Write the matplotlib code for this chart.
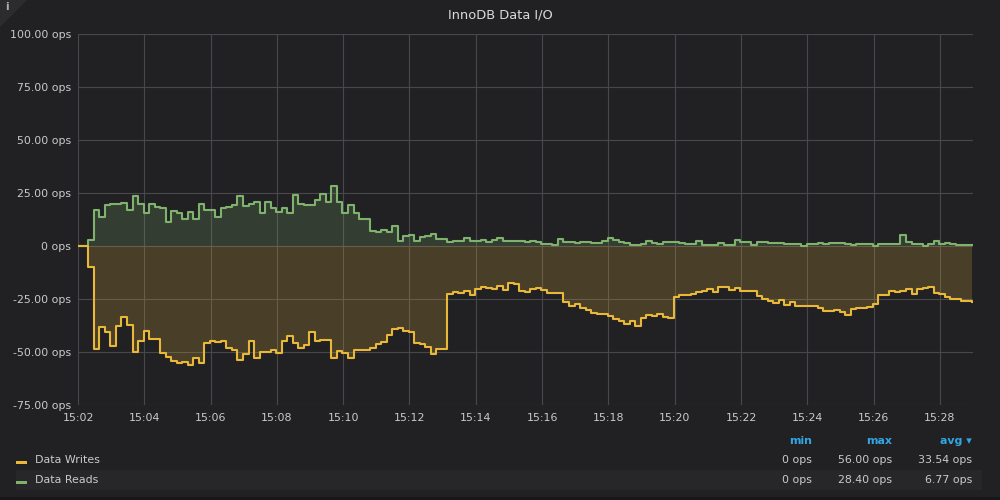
import matplotlib
matplotlib.use("Agg")
import matplotlib.pyplot as plt
import matplotlib.dates as mdates
from matplotlib.patches import Rectangle, Polygon
import pandas as pd
import numpy as np

# ---- data (ops, 10 s resolution) ----
lead_zeros = [0.0, 0.0]
reads = [
    2.8, 17.0, 13.8, 19.3, 19.6, 19.6, 20.4, 17.0, 23.7, 19.6,
    15.7, 19.6, 18.5, 18.0, 11.5, 16.7, 15.4, 12.6, 16.2, 12.6,
    19.6, 17.0, 17.0, 13.8, 17.8, 18.5, 19.3, 23.6, 19.0, 19.6,
    20.6, 15.7, 20.8, 18.0, 15.9, 18.0, 15.4, 24.0, 19.8, 19.5,
    19.3, 21.7, 24.5, 20.9, 28.4, 20.9, 15.7, 19.3, 15.7, 12.6,
    12.6, 7.2, 6.6, 7.5, 6.5, 9.2, 2.4, 4.9, 5.0, 2.4,
    4.1, 4.9, 5.7, 3.1, 3.3, 2.0, 2.4, 2.4, 3.6, 2.2,
    2.5, 3.0, 2.0, 2.8, 3.6, 2.5, 2.5, 2.4, 2.2, 1.7,
    2.2, 2.0, 1.1, 1.0, 0.5, 3.3, 1.7, 1.7, 1.2, 1.9,
    1.7, 1.6, 1.5, 2.5, 3.9, 2.8, 2.0, 1.2, 0.5, 0.5,
    0.9, 2.2, 1.2, 0.9, 1.7, 2.0, 2.0, 1.2, 0.9, 0.9,
    2.4, 0.6, 0.6, 0.6, 1.3, 0.6, 0.6, 3.0, 1.7, 1.7,
    0.6, 2.0, 1.9, 1.4, 1.4, 1.4, 0.8, 0.8, 0.9, 0.2,
    0.9, 0.9, 1.3, 0.8, 1.2, 1.3, 1.3, 0.8, 0.3, 0.8,
    0.8, 0.8, 0.2, 0.9, 0.9, 0.9, 0.9, 5.3, 2.0, 0.8,
    0.8, 0.2, 0.8, 2.5, 1.1, 1.6, 0.8, 0.5, 0.3, 0.3,
    0.3,
]
writes = [
    9.7, 48.7, 38.0, 40.7, 47.0, 37.6, 33.6, 37.3, 49.8, 45.0,
    40.0, 43.9, 43.9, 50.6, 52.2, 54.2, 55.0, 54.9, 56.0, 53.0,
    55.0, 45.6, 44.8, 45.1, 44.8, 48.3, 49.0, 53.8, 51.0, 44.7,
    53.0, 49.8, 49.8, 49.0, 50.3, 45.0, 42.3, 45.6, 48.0, 46.7,
    40.7, 45.0, 44.3, 44.3, 53.0, 49.5, 50.6, 53.0, 49.0, 49.0,
    49.0, 48.0, 46.2, 45.4, 42.0, 39.3, 38.5, 40.1, 40.7, 45.9,
    46.2, 47.5, 50.9, 48.7, 48.6, 22.6, 21.7, 22.3, 21.4, 23.3,
    20.3, 19.3, 19.7, 20.3, 18.7, 20.8, 17.6, 17.8, 21.1, 21.7,
    20.1, 20.0, 20.8, 22.0, 22.3, 22.0, 26.3, 28.1, 27.4, 29.4,
    30.2, 31.8, 32.1, 32.2, 33.0, 34.3, 35.2, 36.9, 35.2, 37.9,
    33.8, 32.5, 33.0, 32.2, 33.5, 33.8, 23.9, 23.1, 23.1, 22.6,
    21.7, 21.1, 20.1, 21.5, 19.5, 19.3, 20.6, 19.7, 21.1, 21.4,
    21.1, 23.4, 25.0, 25.9, 26.7, 25.3, 27.8, 26.6, 28.1, 28.1,
    28.5, 28.1, 29.1, 30.5, 30.7, 30.2, 31.0, 32.5, 29.9, 29.4,
    29.4, 28.6, 27.5, 23.1, 23.1, 21.4, 21.9, 21.2, 20.1, 22.8,
    20.3, 19.8, 19.3, 22.3, 22.6, 24.1, 25.0, 25.0, 25.9, 25.8,
    26.4,
]
series_names = ["Data Writes", "Data Reads"]
legend_min = ["0 ops", "0 ops"]
legend_max = ["56.00 ops", "28.40 ops"]
legend_avg = ["33.54 ops", "6.77 ops"]
y_ticks = [-75, -50, -25, 0, 25, 50, 75, 100]
title = "InnoDB Data I/O"

reads_all = np.array(lead_zeros + reads)
writes_all = np.array(lead_zeros + writes)
times = pd.date_range("2024-01-01 15:01:58.700", periods=len(reads_all), freq="10s")

# ---- style ----
BG = "#212124"
TXT = "#c9cacb"
GRID = "#48484c"
YEL = "#EAB839"
GRN = "#7EB26D"
BLUE = "#33a5e2"
FS = 7.9

W, H = 1000, 500
fig = plt.figure(figsize=(W / 100, H / 100), dpi=100, facecolor=BG)

def fx(px):
    return px / W

def fy(py):
    return 1 - py / H

ax = fig.add_axes([fx(78), fy(405), fx(973) - fx(78), (405 - 34) / H])
ax.set_facecolor(BG)
for s in ax.spines.values():
    s.set_visible(False)

ax.grid(True, color=GRID, linewidth=0.8, zorder=0)
ax.set_axisbelow(True)

# reads (positive)
ax.fill_between(times, reads_all, 0, step="post", color=GRN, alpha=0.2, linewidth=0, zorder=1)
ax.step(times, reads_all, where="post", color=GRN, linewidth=1.5, zorder=3)
# writes (negative-Y)
ax.fill_between(times, -writes_all, 0, step="post", color=YEL, alpha=0.2, linewidth=0, zorder=1)
ax.step(times, -writes_all, where="post", color=YEL, linewidth=1.5, zorder=4)

ax.set_ylim(-75, 100)
ax.set_yticks(y_ticks)
ax.set_yticklabels([("0 ops" if v == 0 else f"{v:.2f} ops") for v in y_ticks])
ax.set_xlim(pd.Timestamp("2024-01-01 15:02:00"), pd.Timestamp("2024-01-01 15:29:00"))
ax.xaxis.set_major_locator(mdates.MinuteLocator(byminute=range(2, 60, 2)))
ax.xaxis.set_major_formatter(mdates.DateFormatter("%H:%M"))
ax.tick_params(axis="both", length=0, colors=TXT, labelsize=FS)
ax.tick_params(axis="y", pad=5)
ax.tick_params(axis="x", pad=6)

# title
fig.text(0.5, fy(15), title, ha="center", va="center", color="#d8d9da", fontsize=9.4)

# info corner
fig.patches.append(Polygon([[0, 1], [fx(27), 1], [0, fy(27)]], closed=True,
                           transform=fig.transFigure, facecolor="#2c2c2f", edgecolor="none"))
fig.text(fx(7), fy(7), "i", ha="center", va="center", color="#b0b0b0", fontsize=7.5, fontweight="bold")

# legend table
fig.patches.append(Rectangle((fx(16), fy(490)), fx(982) - fx(16), 20 / H,
                             transform=fig.transFigure, facecolor="#27272a", edgecolor="none"))
fig.patches.append(Rectangle((0, 0), 1, 3 / H, transform=fig.transFigure,
                             facecolor="#17171a", edgecolor="none"))
cols_x = [812, 892, 972]
fig.text(fx(812), fy(441), "min", ha="right", va="center", color=BLUE, fontsize=FS, fontweight="bold")
fig.text(fx(892), fy(441), "max", ha="right", va="center", color=BLUE, fontsize=FS, fontweight="bold")
fig.text(fx(972), fy(441), "avg \u25be", ha="right", va="center", color=BLUE, fontsize=FS, fontweight="bold")
row_y = [460, 480]
colors = [YEL, GRN]
for i, name in enumerate(series_names):
    yy = row_y[i]
    fig.patches.append(Rectangle((fx(16), fy(yy + 3.5)), 11 / W, 3 / H,
                                 transform=fig.transFigure, facecolor=colors[i], edgecolor="none"))
    fig.text(fx(35), fy(yy), name, ha="left", va="center", color=TXT, fontsize=FS)
    for cx, val in zip(cols_x, [legend_min[i], legend_max[i], legend_avg[i]]):
        fig.text(fx(cx), fy(yy), val, ha="right", va="center", color=TXT, fontsize=FS)

fig.savefig("out.png", dpi=100, facecolor=BG)
